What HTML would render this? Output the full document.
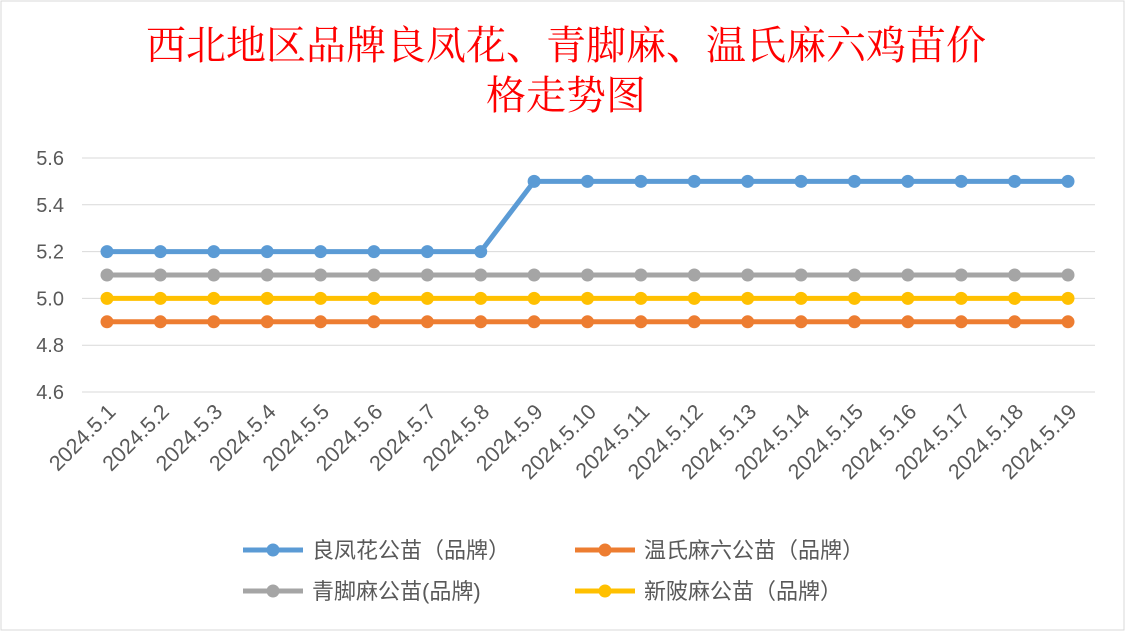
<!DOCTYPE html>
<html><head><meta charset="utf-8"><style>
html,body{margin:0;padding:0;background:#fff;}
svg{display:block;font-family:"Liberation Sans","Noto Sans CJK SC",sans-serif;}
</style></head><body>
<svg width="1131" height="636">
<rect x="1" y="1" width="1123" height="629" fill="#fff" stroke="#d9d9d9"/>
<text x="566" y="59" text-anchor="middle" fill="#ff0000" font-size="40" font-family="'Liberation Serif','Noto Serif CJK SC',serif">西北地区品牌良凤花、青脚麻、温氏麻六鸡苗价</text>
<text x="566" y="109" text-anchor="middle" fill="#ff0000" font-size="40" font-family="'Liberation Serif','Noto Serif CJK SC',serif">格走势图</text>
<g id="grid"></g><g id="ylabels"></g><g id="xlabels"></g><g id="series"></g>
<g>
<g><line x1="243" y1="550" x2="303" y2="550" stroke="#5b9bd5" stroke-width="5"/><circle cx="273" cy="550" r="6.5" fill="#5b9bd5"/><text x="312" y="558" font-size="22" fill="#595959">良凤花公苗（品牌）</text></g>
<g><line x1="575" y1="550" x2="635" y2="550" stroke="#ed7d31" stroke-width="5"/><circle cx="605" cy="550" r="6.5" fill="#ed7d31"/><text x="644" y="558" font-size="22" fill="#595959">温氏麻六公苗（品牌）</text></g>
<g><line x1="243" y1="591" x2="303" y2="591" stroke="#a5a5a5" stroke-width="5"/><circle cx="273" cy="591" r="6.5" fill="#a5a5a5"/><text x="312" y="599" font-size="22" fill="#595959">青脚麻公苗(品牌)</text></g>
<g><line x1="575" y1="591" x2="635" y2="591" stroke="#ffc000" stroke-width="5"/><circle cx="605" cy="591" r="6.5" fill="#ffc000"/><text x="644" y="599" font-size="22" fill="#595959">新陂麻公苗（品牌）</text></g>
</g>
</svg>
<script>
const categories=["2024.5.1","2024.5.2","2024.5.3","2024.5.4","2024.5.5","2024.5.6","2024.5.7","2024.5.8","2024.5.9","2024.5.10","2024.5.11","2024.5.12","2024.5.13","2024.5.14","2024.5.15","2024.5.16","2024.5.17","2024.5.18","2024.5.19"];
const lfhValues=[5.2,5.2,5.2,5.2,5.2,5.2,5.2,5.2,5.5,5.5,5.5,5.5,5.5,5.5,5.5,5.5,5.5,5.5,5.5];
const wsmlValues=[4.9,4.9,4.9,4.9,4.9,4.9,4.9,4.9,4.9,4.9,4.9,4.9,4.9,4.9,4.9,4.9,4.9,4.9,4.9];
const qjmValues=[5.1,5.1,5.1,5.1,5.1,5.1,5.1,5.1,5.1,5.1,5.1,5.1,5.1,5.1,5.1,5.1,5.1,5.1,5.1];
const xbmValues=[5.0,5.0,5.0,5.0,5.0,5.0,5.0,5.0,5.0,5.0,5.0,5.0,5.0,5.0,5.0,5.0,5.0,5.0,5.0];
const yTicks=["4.6","4.8","5.0","5.2","5.4","5.6"];
const NS="http://www.w3.org/2000/svg";
const yMin=4.6,yMax=5.6,yTop=158,yBot=392;
function yS(v){return yBot-(v-yMin)/(yMax-yMin)*(yBot-yTop);}
function xS(i){return 107+i*(1068-107)/(categories.length-1);}
function mk(t,a,p){const e=document.createElementNS(NS,t);for(const k in a)e.setAttribute(k,a[k]);p.appendChild(e);return e;}
const grid=document.getElementById('grid'),yl=document.getElementById('ylabels'),xl=document.getElementById('xlabels'),sg=document.getElementById('series');
yTicks.forEach(t=>{const v=parseFloat(t),y=yS(v);
const g=mk('line',{x1:82,x2:1095,y1:y,y2:y,stroke:'#d9d9d9','stroke-width':1},grid);


const tx=mk('text',{x:64,y:y+7,'text-anchor':'end','font-size':20,fill:'#595959'},yl);tx.textContent=t;

});
categories.forEach((c,i)=>{const x=xS(i)+10,y=413;
const tx=mk('text',{x:x,y:y,'text-anchor':'end','font-size':21.5,fill:'#595959',transform:`rotate(-45 ${x} ${y})`},xl);tx.textContent=c;

});
[[wsmlValues,'#ed7d31','wsml'],[xbmValues,'#ffc000','xbm'],[qjmValues,'#a5a5a5','qjm'],[lfhValues,'#5b9bd5','lfh']].forEach(([vals,col,nm])=>{
const g=mk('g',{},sg);


const pl=mk('polyline',{points:vals.map((v,i)=>xS(i)+','+yS(v)).join(' '),fill:'none',stroke:col,'stroke-width':5,'stroke-linejoin':'round'},g);


vals.forEach((v,i)=>{const c=mk('circle',{cx:xS(i),cy:yS(v),r:6.5,fill:col},g);

});});
</script>
</body></html>
